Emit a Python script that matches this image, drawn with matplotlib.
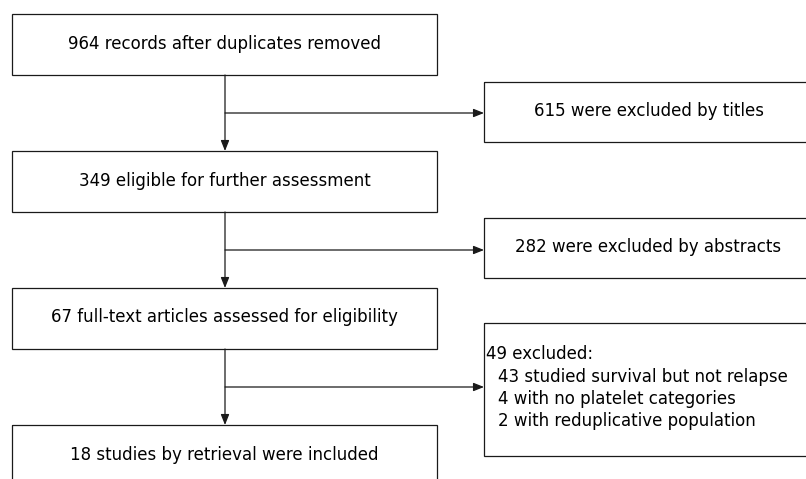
import numpy as np
import matplotlib
matplotlib.use('Agg')
import matplotlib.pyplot as plt
from matplotlib.patches import Rectangle, FancyArrowPatch

# main flow boxes (top to bottom)
main_labels = [
    '964 records after duplicates removed',
    '349 eligible for further assessment',
    '67 full-text articles assessed for eligibility',
    '18 studies by retrieval were included',
]
# exclusion boxes on the right
excl_labels = [
    '615 were excluded by titles',
    '282 were excluded by abstracts',
]
excl_head = '49 excluded:'
excl_items = [
    '43 studied survival but not relapse',
    '4 with no platelet categories',
    '2 with reduplicative population',
]

# layout in pixel coords (y downwards)
W, H = 806, 479
MAIN_X0, MAIN_X1 = 12, 437
MAIN_TOPS = [14, 151, 288, 425]
MAIN_H = 61
TRUNK_X = 225
RIGHT_X0, RIGHT_X1 = 484, 813
RIGHT_BOXES = [(82, 142), (218, 278), (323, 456)]
BRANCH_Y = [113, 250, 387]

LINE = '#1a1a1a'
FONT = 'DejaVu Sans Condensed'
FS = 12

fig = plt.figure(figsize=(W / 100, H / 100), dpi=100)
ax = fig.add_axes([0, 0, 1, 1])
ax.set_xlim(0, W)
ax.set_ylim(H, 0)
ax.axis('off')


def box(x0, y0, x1, y1):
    ax.add_patch(Rectangle((x0, y0), x1 - x0, y1 - y0, fill=False,
                           edgecolor=LINE, linewidth=0.9))


def arrow(p0, p1):
    ax.add_patch(FancyArrowPatch(p0, p1, arrowstyle='-|>,head_length=0.45,head_width=0.18',
                                 mutation_scale=14, color=LINE, linewidth=0.9,
                                 shrinkA=0, shrinkB=0))


# main boxes
for top, lab in zip(MAIN_TOPS, main_labels):
    box(MAIN_X0, top, MAIN_X1, top + MAIN_H)
    ax.text((MAIN_X0 + MAIN_X1) / 2, top + MAIN_H / 2 - 1, lab, ha='center', va='center',
            fontsize=FS, family=FONT, color='black')

# vertical arrows between main boxes
for i in range(len(MAIN_TOPS) - 1):
    arrow((TRUNK_X, MAIN_TOPS[i] + MAIN_H), (TRUNK_X, MAIN_TOPS[i + 1]))

# side branches
for (t, b), by in zip(RIGHT_BOXES, BRANCH_Y):
    box(RIGHT_X0, t, RIGHT_X1, b)
    arrow((TRUNK_X, by), (RIGHT_X0, by))

for (t, b), lab in zip(RIGHT_BOXES[:2], excl_labels):
    ax.text((RIGHT_X0 + RIGHT_X1) / 2, (t + b) / 2 - 1, lab, ha='center', va='center',
            fontsize=FS, family=FONT, color='black')

# last exclusion box with list
t, b = RIGHT_BOXES[2]
line_gap = 22.5
y0 = 354
ax.text(486, y0, excl_head, ha='left', va='center', fontsize=FS, family=FONT, color='black')
for k, item in enumerate(excl_items):
    ax.text(498, y0 + (k + 1) * line_gap, item, ha='left', va='center',
            fontsize=FS, family=FONT, color='black')

fig.savefig('out.png', dpi=100)
